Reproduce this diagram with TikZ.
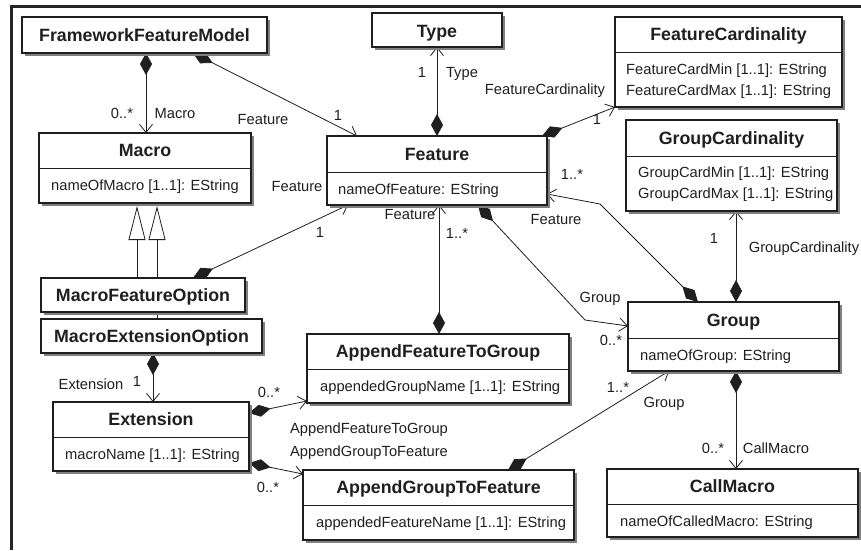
\documentclass[tikz,border=0pt]{standalone}
\usepackage{fontspec}
\setmainfont{Liberation Sans}
\usetikzlibrary{arrows.meta,calc}
\pgfdeclarelayer{background}
\pgfsetlayers{background,main}

\tikzset{
  clsframe/.style={draw=black!88, line width=1.3pt, fill=white, inner sep=0pt, outer sep=0pt},
  ttl/.style={font=\fontsize{17.8}{20}\selectfont\bfseries, inner sep=0pt, text=black!88,
              text height=12.8pt, text depth=0pt},
  attr/.style={font=\fontsize{14.7}{16}\selectfont, inner sep=0pt, anchor=west, text=black!88,
               text height=10.6pt, text depth=0pt},
  lbl/.style={font=\fontsize{14.7}{16}\selectfont, inner sep=0pt, text=black!88,
              text height=10.6pt, text depth=0pt},
  comp/.style={draw=black!88, line width=0.8pt,
               arrows={Diamond[length=22pt,width=12pt]-Straight Barb[length=8pt,width=13pt]}},
  gen/.style={draw=black!88, line width=0.8pt,
              arrows={-Triangle[length=34pt,width=17pt,fill=white]}},
}

% class box with drop shadow: name, x1, y1, x2, y2
\newcommand\umlbox[5]{%
  \fill[black!50] (#2+3,#3+3) rectangle (#4+3,#5+3);
  \pgfmathsetmacro\boxw{#4-#2}%
  \pgfmathsetmacro\boxh{#5-#3}%
  \node[clsframe, anchor=north west, minimum width=\boxw pt, minimum height=\boxh pt] (#1) at (#2,#3) {};
}
% compartment line below the class name: name, offset from top
\newcommand\umldiv[2]{%
  \draw[black!88, line width=0.9pt] ($(#1.north west)+(0,#2)$) -- ($(#1.north east)+(0,#2)$);
}

\begin{document}
\begin{tikzpicture}[x=1pt,y=-1pt]
\useasboundingbox (0,0) rectangle (861,550);
\begin{pgfonlayer}{background}
  \fill[white] (0,0) rectangle (861,550);
\end{pgfonlayer}

% outer frame
\draw[line width=3pt, black!85] (11.5,550) -- (11.5,6) -- (861,6);

% classes
\umlbox{ffm}{22}{17}{267}{53}
\umlbox{type}{372}{13}{502}{47}
\umlbox{fcard}{615}{17}{842}{107}
\umlbox{gcard}{626}{120}{837}{211}
\umlbox{macro}{39}{133}{251}{203}
\umlbox{feat}{327}{136}{547}{205}
\umlbox{meo}{41}{319}{262}{353}
\umlbox{mfo}{41}{278}{245}{312}
\umlbox{ext}{53}{402}{249}{471}
\umlbox{aftg}{307}{334}{569}{403}
\umlbox{agtf}{303}{470}{574}{540}
\umlbox{group}{628}{302}{839}{371}
\umlbox{callm}{607}{469}{858}{537}

\umldiv{fcard}{35}
\umldiv{gcard}{36}
\umldiv{macro}{35}
\umldiv{feat}{36}
\umldiv{ext}{35}
\umldiv{aftg}{35}
\umldiv{agtf}{35}
\umldiv{group}{36}
\umldiv{callm}{35}

% class names
\node[ttl] (ffm-t)   at (ffm.center) {FrameworkFeatureModel};
\node[ttl] (type-t)  at ($(type.center)+(0,1)$) {Type};
\node[ttl] (mfo-t)   at (mfo.center) {MacroFeatureOption};
\node[ttl] (meo-t)   at (meo.center) {MacroExtensionOption};
\node[ttl] (fcard-t) at ($(fcard.north)+(0,17.5)$) {FeatureCardinality};
\node[ttl] (gcard-t) at ($(gcard.north)+(0,18)$) {GroupCardinality};
\node[ttl] (macro-t) at ($(macro.north)+(0,17.5)$) {Macro};
\node[ttl] (feat-t)  at ($(feat.north)+(0,18)$) {Feature};
\node[ttl] (ext-t)   at ($(ext.north)+(0,17.5)$) {Extension};
\node[ttl] (aftg-t)  at ($(aftg.north)+(0,17.5)$) {AppendFeatureToGroup};
\node[ttl] (agtf-t)  at ($(agtf.north)+(0,17.5)$) {AppendGroupToFeature};
\node[ttl] (group-t) at ($(group.north)+(0,18)$) {Group};
\node[ttl] (callm-t) at ($(callm.north)+(0,17.5)$) {CallMacro};

% attributes
\node[attr] (fcard-a1) at ($(fcard.north west)+(11,52)$) {FeatureCardMin [1..1]: EString};
\node[attr] (fcard-a2) at ($(fcard.north west)+(11,73)$) {FeatureCardMax [1..1]: EString};
\node[attr] (gcard-a1) at ($(gcard.north west)+(12,52)$) {GroupCardMin [1..1]: EString};
\node[attr] (gcard-a2) at ($(gcard.north west)+(12,73)$) {GroupCardMax [1..1]: EString};
\node[attr] (macro-a) at ($(macro.north west)+(12,52)$) {nameOfMacro [1..1]: EString};
\node[attr] (feat-a)  at ($(feat.north west)+(11,53)$) {nameOfFeature: EString};
\node[attr] (ext-a)   at ($(ext.north west)+(12,52)$) {macroName [1..1]: EString};
\node[attr] (aftg-a)  at ($(aftg.north west)+(13,52)$) {appendedGroupName [1..1]: EString};
\node[attr] (agtf-a)  at ($(agtf.north west)+(13,52)$) {appendedFeatureName [1..1]: EString};
\node[attr] (group-a) at ($(group.north west)+(12,53)$) {nameOfGroup: EString};
\node[attr] (callm-a) at ($(callm.north west)+(13,52)$) {nameOfCalledMacro: EString};

% bend points
\coordinate (eb) at (600,204);
\coordinate (gb) at (585,320);

\begin{pgfonlayer}{background}
  % compositions
  \draw[comp] ($(ffm.south west)+(124,0)$) -- ($(macro.north west)+(107,0)$);
  \draw[comp] ($(ffm.south west)+(171,0)$) -- ($(feat.north west)+(30,0)$);
  \draw[comp] (feat.north) -- (type.south);
  \draw[comp] ($(feat.north east)+(-5,0)$) -- (fcard.south west);
  \draw[comp] ($(group.north west)+(70,0)$) -- (eb) -- ($(feat.north east)+(0,58)$);
  \draw[comp] ($(group.north west)+(108,0)$) -- ($(gcard.south west)+(110,0)$);
  \draw[comp] ($(feat.south west)+(151,0)$) -- (gb) -- ($(group.north west)+(0,24)$);
  \draw[comp] ($(aftg.north west)+(132,0)$) -- ($(feat.south west)+(112,0)$);
  \draw[comp] ($(mfo.north west)+(152,0)$) -- ($(feat.south west)+(21,0)$);
  \draw[comp] ($(meo.south west)+(112,0)$) -- ($(ext.north west)+(100,0)$);
  \draw[comp] ($(ext.north east)+(0,11)$) -- ($(aftg.south west)+(0,-2)$);
  \draw[comp] ($(ext.south east)+(0,-8)$) -- ($(agtf.north west)+(0,4)$);
  \draw[comp] ($(agtf.north west)+(205,0)$) -- ($(group.south west)+(41,0)$);
  \draw[comp] ($(group.south west)+(108,0)$) -- ($(callm.north west)+(129,0)$);
  % generalizations
  \draw[gen] ($(mfo.north west)+(96,0)$) -- ($(macro.south west)+(98,3)$);
  \draw[gen] ($(meo.north west)+(116,0)$) -- ($(macro.south west)+(118,3)$);
\end{pgfonlayer}

% role names and multiplicities
\node[lbl] (la1) at (122,113) {0..*};
\node[lbl] (la2) at (175,113) {Macro};
\node[lbl] (lb1) at (263,119) {Feature};
\node[lbl] (lb2) at (338,115) {1};
\node[lbl] (lc1) at (422,72) {1};
\node[lbl] (lc2) at (462,72) {Type};
\node[lbl] (ld1) at (545,89) {FeatureCardinality};
\node[lbl] (ld2) at (597,119) {1};
\node[lbl] (li1) at (297,186) {Feature};
\node[lbl] (le1) at (572,174) {1..*};
\node[lbl] (le2) at (556,219) {Feature};
\node[lbl] (lf1) at (714,238) {1};
\node[lbl] (lf2) at (804,247) {GroupCardinality};
\node[lbl] (lh1) at (410,214) {Feature};
\node[lbl] (lh2) at (457,233) {1..*};
\node[lbl] (li2) at (320,232) {1};
\node[lbl] (lg1) at (600,297) {Group};
\node[lbl] (lg2) at (611,340) {0..*};
\node[lbl] (lj1) at (91,384) {Extension};
\node[lbl] (lj2) at (137,381) {1};
\node[lbl] (lk1) at (269,392) {0..*};
\node[lbl] (lk2) at (369,428) {AppendFeatureToGroup};
\node[lbl] (ll1) at (369,451) {AppendGroupToFeature};
\node[lbl] (ll2) at (268,487) {0..*};
\node[lbl] (lm1) at (618,387) {1..*};
\node[lbl] (lm2) at (664,402) {Group};
\node[lbl] (ln1) at (713,448) {0..*};
\node[lbl] (ln2) at (776,448) {CallMacro};
\end{tikzpicture}
\end{document}
